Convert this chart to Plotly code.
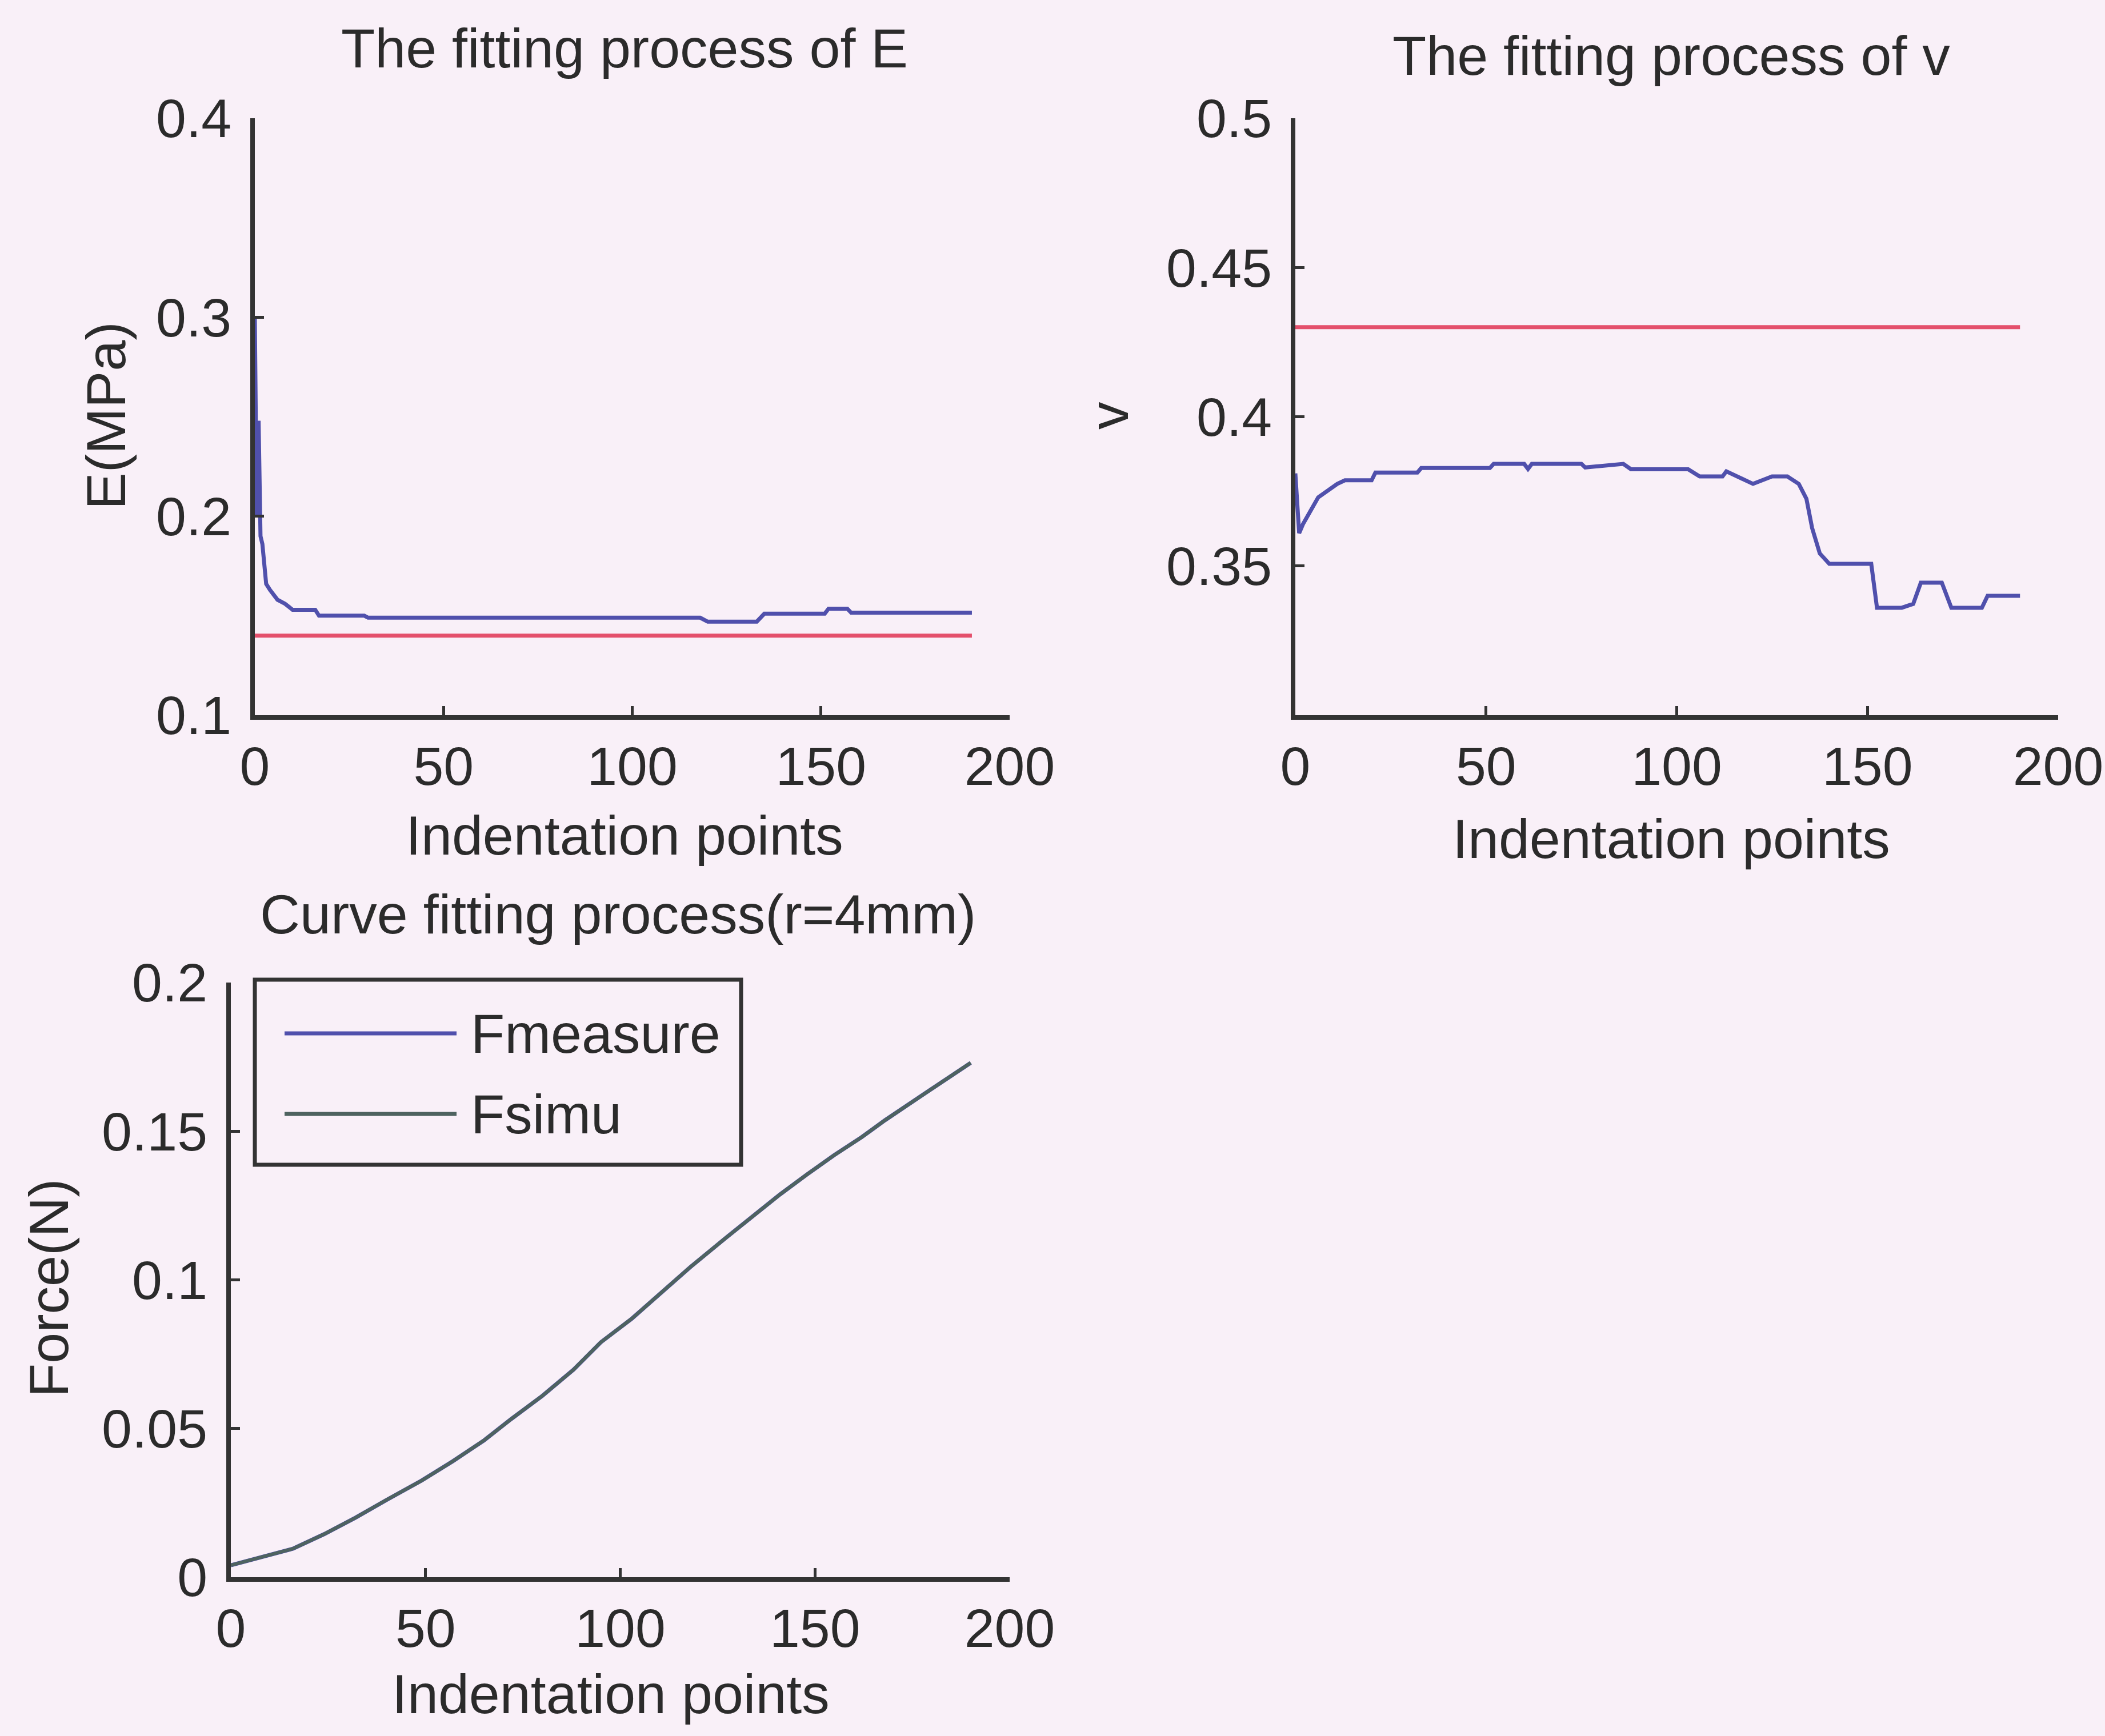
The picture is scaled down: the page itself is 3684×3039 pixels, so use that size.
import plotly.graph_objects as go

W, H = 3684, 3039

# ---------------- data ----------------
x_ticks = [0, 50, 100, 150, 200]
x_ticktext = ["0", "50", "100", "150", "200"]

E_x = [0, 0.5, 1, 1.5, 2, 2.5, 3, 4, 5, 6, 8, 10, 16, 17, 29, 30,
       118, 120, 133, 135, 151, 152, 157, 158, 190]
E_fit = [0.300, 0.200, 0.248, 0.190, 0.186, 0.174, 0.166, 0.163, 0.1605, 0.158,
         0.156, 0.153, 0.153, 0.150, 0.150, 0.149, 0.149, 0.147, 0.147, 0.151,
         0.151, 0.1535, 0.1535, 0.1515, 0.1515]
E_ref_x = [0, 190]
E_ref = [0.140, 0.140]
E_ticks = [0.1, 0.2, 0.3, 0.4]
E_ticktext = ["0.1", "0.2", "0.3", "0.4"]

v_x = [0, 1, 2, 6, 11, 13, 20, 21, 32, 33,
       51, 52, 60, 61, 62, 75, 76, 86, 88, 103,
       106, 112, 113, 120, 125, 129, 132, 134, 135.5, 137.5,
       140, 151, 152.5, 159, 162, 164, 169.5, 172, 180, 181.5,
       190]
v_fit = [0.381, 0.361, 0.364, 0.373, 0.3775, 0.3787, 0.3787, 0.3813, 0.3813, 0.3828,
         0.3828, 0.3842, 0.3842, 0.3825, 0.3842, 0.3842, 0.383, 0.3842, 0.3824, 0.3824,
         0.380, 0.380, 0.3817, 0.3775, 0.380, 0.380, 0.3775, 0.3725, 0.3627, 0.3542,
         0.3507, 0.3507, 0.336, 0.336, 0.3373, 0.3444, 0.3444, 0.336, 0.336, 0.340,
         0.340]
v_ref_x = [0, 190]
v_ref = [0.430, 0.430]
v_ticks = [0.3, 0.35, 0.4, 0.45, 0.5]
v_ticktext = ["", "0.35", "0.4", "0.45", "0.5"]

F_x = [0, 8, 16, 24, 32, 40, 49, 57, 65, 72, 80, 88, 95, 103, 110, 118, 127,
       134, 141, 148, 155, 162, 168, 178, 190]
F_measure = [0.004, 0.0068, 0.0096, 0.0145, 0.020, 0.026, 0.0325, 0.039, 0.046,
             0.0532, 0.061, 0.0698, 0.079, 0.087, 0.095, 0.1043, 0.114, 0.1213,
             0.1287, 0.1355, 0.142, 0.148, 0.1537, 0.1625, 0.173]
F_simu = [0.004, 0.0068, 0.0096, 0.0145, 0.020, 0.026, 0.0325, 0.039, 0.046,
          0.0532, 0.061, 0.0698, 0.079, 0.087, 0.095, 0.1043, 0.114, 0.1213,
          0.1287, 0.1355, 0.142, 0.148, 0.1537, 0.1625, 0.173]
F_ticks = [0, 0.05, 0.1, 0.15, 0.2]
F_ticktext = ["0", "0.05", "0.1", "0.15", "0.2"]

legend_names = ["Fmeasure", "Fsimu"]

# ---------------- styling ----------------
FONT = "Liberation Sans, Arial, sans-serif"
TXT = "#2b2b2b"
AX = "#333333"
BLUE = "#5050AC"
RED = "#E4506C"
GREEN = "#4E6360"
BG = "#F9F0F8"
FS = 97
TFS = 95


def px(x):
    return x / W


def py(y):
    return 1 - y / H


def axis(domain, rng, tickvals, ticktext, anchor, standoff):
    return dict(domain=domain, range=rng, tickvals=tickvals, ticktext=ticktext,
                showline=True, linecolor=AX, linewidth=8, mirror=False,
                ticks="inside", ticklen=16, tickwidth=5, tickcolor=AX,
                showgrid=False, zeroline=False, anchor=anchor, automargin=False,
                ticklabelstandoff=standoff,
                tickfont=dict(family=FONT, size=TFS, color=TXT))


fig = go.Figure()

# E subplot
fig.add_trace(go.Scatter(x=E_x, y=E_fit, mode="lines", line=dict(color=BLUE, width=7),
                         xaxis="x", yaxis="y", showlegend=False))
fig.add_trace(go.Scatter(x=E_ref_x, y=E_ref, mode="lines", line=dict(color=RED, width=7),
                         xaxis="x", yaxis="y", showlegend=False))
# v subplot
fig.add_trace(go.Scatter(x=v_ref_x, y=v_ref, mode="lines", line=dict(color=RED, width=7),
                         xaxis="x2", yaxis="y2", showlegend=False))
fig.add_trace(go.Scatter(x=v_x, y=v_fit, mode="lines", line=dict(color=BLUE, width=7),
                         xaxis="x2", yaxis="y2", showlegend=False))
# Force subplot
fig.add_trace(go.Scatter(x=F_x, y=F_measure, mode="lines", line=dict(color=BLUE, width=7),
                         xaxis="x3", yaxis="y3", showlegend=False, name=legend_names[0]))
fig.add_trace(go.Scatter(x=F_x, y=F_simu, mode="lines", line=dict(color=GREEN, width=6),
                         xaxis="x3", yaxis="y3", showlegend=False, name=legend_names[1]))

dom_top = [py(1252), py(207)]
dom_bot = [py(2761), py(1720)]

annotations = []


def text(x, y, s, angle=0, size=FS, xanchor="center"):
    annotations.append(dict(x=px(x), y=py(y), xref="paper", yref="paper", text=s,
                            showarrow=False, textangle=angle, xanchor=xanchor,
                            yanchor="middle",
                            font=dict(family=FONT, size=size, color=TXT)))


text(1093, 85, "The fitting process of E")
text(2925, 97, "The fitting process of v")
text(1081, 1600, "Curve fitting process(r=4mm)")
text(1093, 1462, "Indentation points")
text(2925, 1468, "Indentation points")
text(1069, 2965, "Indentation points")
text(185, 728, "E(MPa)", angle=-90)
text(1940, 728, "v", angle=-90)
text(85, 2255, "Force(N)", angle=-90)
text(822, 1809, legend_names[0], xanchor="left")
text(822, 1950, legend_names[1], xanchor="left")

shapes = [
    dict(type="rect", xref="paper", yref="paper", x0=px(446), x1=px(1297),
         y0=py(2039), y1=py(1715), line=dict(color=AX, width=7), fillcolor=BG),
    dict(type="line", xref="paper", yref="paper", x0=px(498), x1=px(799),
         y0=py(1809), y1=py(1809), line=dict(color=BLUE, width=7)),
    dict(type="line", xref="paper", yref="paper", x0=px(498), x1=px(799),
         y0=py(1950), y1=py(1950), line=dict(color=GREEN, width=7)),
]

fig.update_layout(
    width=W, height=H, margin=dict(l=0, r=0, t=0, b=0, autoexpand=False),
    paper_bgcolor=BG, plot_bgcolor=BG, showlegend=False,
    xaxis=axis([px(446), px(1767)], [0, 200], x_ticks, x_ticktext, "y", 0),
    yaxis=axis(dom_top, [0.1, 0.4], E_ticks, E_ticktext, "x", 14),
    xaxis2=axis([px(2267), px(3602)], [0, 200], x_ticks, x_ticktext, "y2", 0),
    yaxis2=axis(dom_top, [0.3, 0.5], v_ticks, v_ticktext, "x2", 14),
    xaxis3=axis([px(404), px(1767)], [0, 200], x_ticks, x_ticktext, "y3", 0),
    yaxis3=axis(dom_bot, [0, 0.2], F_ticks, F_ticktext, "x3", 14),
    annotations=annotations, shapes=shapes,
)

fig.write_html("out.html")
